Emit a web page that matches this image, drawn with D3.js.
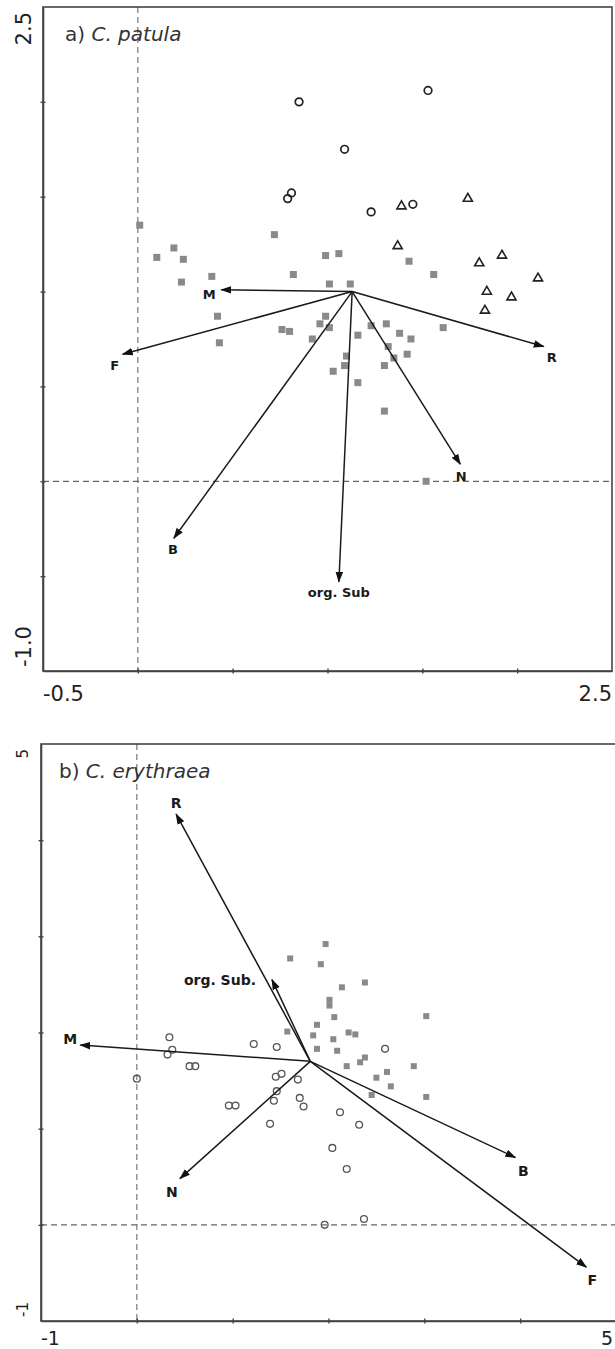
<!DOCTYPE html>
<html>
<head>
<meta charset="utf-8">
<script src="https://cdn.jsdelivr.net/npm/d3@7/dist/d3.min.js"></script>
<style>
  body { margin: 0; background: #fff; }
</style>
</head>
<body>
<script>
/* global d3 */

// ---- panel a) C. patula ----
var squaresA = [[0.01,1.35],[0.10,1.18],[0.19,1.23],[0.24,1.17],[0.23,1.05],[0.39,1.08],[0.42,0.87],[0.43,0.73],
  [0.72,1.30],[0.82,1.09],[0.76,0.80],[0.80,0.79],[0.92,0.75],[0.99,1.19],[1.06,1.20],[1.01,1.04],[1.12,1.04],
  [0.99,0.87],[0.96,0.83],[1.01,0.81],[1.16,0.77],[1.23,0.82],[1.31,0.83],[1.38,0.78],[1.44,0.75],[1.61,0.81],
  [1.43,1.16],[1.56,1.09],[1.10,0.66],[1.09,0.61],[1.03,0.58],[1.32,0.71],[1.35,0.65],[1.42,0.67],[1.30,0.61],
  [1.16,0.52],[1.30,0.37],[1.52,0.00]];
var circlesA = [[0.85,2.00],[1.53,2.06],[1.09,1.75],[0.81,1.52],[0.79,1.49],[1.23,1.42],[1.45,1.46]];
var trianglesA = [[1.39,1.45],[1.74,1.49],[1.37,1.24],[1.92,1.19],[1.80,1.15],[2.11,1.07],[1.84,1.00],[1.97,0.97],[1.83,0.90]];
var varsA = ["M","F","R","N","B","org. Sub"];
var originA = [1.13, 1.00];
var tipsA = [[0.44,1.01],[-0.08,0.67],[2.14,0.71],[1.70,0.09],[0.19,-0.30],[1.06,-0.53]];
var xTicksA = [0, 0.5, 1, 1.5, 2];
var yTicksA = [-0.5, 0, 0.5, 1, 1.5, 2];
var xEndLabelsA = ["-0.5", "2.5"];
var yEndLabelsA = ["-1.0", "2.5"];

// ---- panel b) C. erythraea ----
var squaresB = [[1.97,2.92],[1.60,2.77],[1.92,2.71],[2.14,2.47],[2.38,2.52],[2.01,2.34],[2.01,2.28],[2.06,2.16],
  [3.02,2.17],[1.57,2.01],[1.88,2.08],[1.84,1.97],[2.05,1.93],[2.21,2.00],[2.28,1.98],[1.88,1.83],[2.09,1.81],
  [2.19,1.65],[2.33,1.69],[2.38,1.74],[2.89,1.65],[2.50,1.53],[2.61,1.59],[2.65,1.44],[2.45,1.35],[3.02,1.33]];
var circlesB = [[0.34,1.95],[0.37,1.82],[0.32,1.77],[0.55,1.65],[0.61,1.65],[0.00,1.52],[1.22,1.88],[1.46,1.85],
  [2.59,1.83],[1.45,1.54],[1.51,1.57],[1.68,1.51],[1.46,1.39],[1.43,1.29],[1.70,1.32],[1.74,1.23],[0.96,1.24],
  [1.03,1.24],[1.39,1.05],[2.12,1.17],[2.32,1.04],[2.04,0.80],[2.19,0.58],[1.96,0.00],[2.37,0.06]];
var varsB = ["R","M","N","B","F","org. Sub."];
var originB = [1.81, 1.70];
var tipsB = [[0.41,4.27],[-0.59,1.87],[0.45,0.48],[3.95,0.70],[4.69,-0.44],[1.41,2.55]];
var xTicksB = [0, 1, 2, 3, 4];
var yTicksB = [0, 1, 2, 3, 4];
var xEndLabelsB = ["-1", "5"];
var yEndLabelsB = ["-1", "5"];

// label offsets from arrow tips (pixels)
var labelOffA = [[-12,5],[-8,11],[8,11],[1,12],[-1,11],[0,11]];
var labelOffB = [[0,-11],[-10,-6],[-8,13],[8,13],[6,13],[-52,0]];

var axisColor = "#444",
    font = "'DejaVu Sans', Arial, sans-serif";

var svg = d3.select("body").append("svg")
    .attr("width", 615)
    .attr("height", 1349);

svg.append("defs").append("marker")
    .attr("id", "head")
    .attr("viewBox", "0 -4 11 8")
    .attr("refX", 10).attr("refY", 0)
    .attr("markerUnits", "userSpaceOnUse")
    .attr("markerWidth", 11).attr("markerHeight", 8)
    .attr("orient", "auto")
  .append("path")
    .attr("d", "M0,-3.8L11,0L0,3.8Z")
    .attr("fill", "#111");

function drawPanel(p) {
  var x = d3.scaleLinear().domain(p.xDom).range(p.xRange),
      y = d3.scaleLinear().domain(p.yDom).range(p.yRange);
  var g = svg.append("g");
  var x0 = p.xRange[0], x1 = p.xRange[1], yb = p.yRange[0], yt = p.yRange[1];

  // dashed zero lines
  g.append("line").attr("x1", x(0)).attr("x2", x(0)).attr("y1", yt).attr("y2", yb)
    .attr("stroke", "#777").attr("stroke-width", 1.2).attr("stroke-dasharray", "6,4");
  g.append("line").attr("x1", x0).attr("x2", x1).attr("y1", y(0)).attr("y2", y(0))
    .attr("stroke", "#666").attr("stroke-width", 1.3).attr("stroke-dasharray", "6,4");

  // frame
  g.append("rect").attr("x", x0).attr("y", yt).attr("width", x1 - x0).attr("height", yb - yt)
    .attr("fill", "none").attr("stroke", axisColor).attr("stroke-width", 1.6);

  // axes with crossing ticks
  g.append("g").attr("transform", "translate(0," + yb + ")")
    .call(d3.axisBottom(x).tickValues(p.xTicks).tickSizeOuter(0).tickFormat(""))
    .call(function(a){
      a.select(".domain").attr("stroke", axisColor).attr("stroke-width", 1.6);
      a.selectAll(".tick line").attr("y1", -2.5).attr("y2", 2.5).attr("stroke", axisColor).attr("stroke-width", 1.4);
    });
  g.append("g").attr("transform", "translate(" + x0 + ",0)")
    .call(d3.axisLeft(y).tickValues(p.yTicks).tickSizeOuter(0).tickFormat(""))
    .call(function(a){
      a.select(".domain").attr("stroke", axisColor).attr("stroke-width", 1.6);
      a.selectAll(".tick line").attr("x1", -2.5).attr("x2", 2.5).attr("stroke", axisColor).attr("stroke-width", 1.4);
    });

  // end labels
  g.append("text").attr("x", x0).attr("y", p.xLabY).attr("text-anchor", "start")
    .style("font-family", font).style("font-size", p.xLabSize + "px").attr("fill", "#222").text(p.xLabels[0]);
  g.append("text").attr("x", Math.min(x1, 613)).attr("y", p.xLabY).attr("text-anchor", "end")
    .style("font-family", font).style("font-size", p.xLabSize + "px").attr("fill", "#222").text(p.xLabels[1]);
  g.append("text").attr("transform", "translate(" + p.yLabX + "," + (yb - 4) + ") rotate(-90)")
    .attr("text-anchor", "start")
    .style("font-family", font).style("font-size", p.yLabSize + "px").attr("fill", "#222").text(p.yLabels[0]);
  g.append("text").attr("transform", "translate(" + p.yLabX + "," + (yt + 5) + ") rotate(-90)")
    .attr("text-anchor", "end")
    .style("font-family", font).style("font-size", p.yLabSize + "px").attr("fill", "#222").text(p.yLabels[1]);

  // title
  var t = g.append("text").attr("x", p.titleX).attr("y", p.titleY)
    .style("font-family", font).style("font-size", "20px").attr("fill", "#333");
  t.append("tspan").text(p.title[0]);
  t.append("tspan").style("font-style", "italic").text(p.title[1]);

  // points
  g.selectAll(".sq").data(p.squares).enter().append("rect")
    .attr("x", function(d){ return x(d[0]) - p.sqSize/2; })
    .attr("y", function(d){ return y(d[1]) - p.sqSize/2; })
    .attr("width", p.sqSize).attr("height", p.sqSize)
    .attr("fill", "#8a8a8a");
  g.selectAll(".ci").data(p.circles).enter().append("circle")
    .attr("cx", function(d){ return x(d[0]); })
    .attr("cy", function(d){ return y(d[1]); })
    .attr("r", p.cr)
    .attr("fill", "none").attr("stroke", p.circleColor).attr("stroke-width", p.circleWidth);
  g.selectAll(".tr").data(p.triangles || []).enter().append("path")
    .attr("d", d3.symbol().type(d3.symbolTriangle).size(36))
    .attr("transform", function(d){ return "translate(" + x(d[0]) + "," + y(d[1]) + ")"; })
    .attr("fill", "none").attr("stroke", "#222").attr("stroke-width", 1.6);

  // environmental arrows
  g.selectAll(".arrow").data(p.tips).enter().append("line")
    .attr("x1", x(p.origin[0])).attr("y1", y(p.origin[1]))
    .attr("x2", function(d){ return x(d[0]); })
    .attr("y2", function(d){ return y(d[1]); })
    .attr("stroke", "#1a1a1a").attr("stroke-width", 1.5)
    .attr("marker-end", "url(#head)");
  g.selectAll(".vlab").data(p.tips).enter().append("text")
    .attr("x", function(d, i){ return x(d[0]) + p.labelOff[i][0]; })
    .attr("y", function(d, i){ return y(d[1]) + p.labelOff[i][1]; })
    .attr("text-anchor", "middle")
    .attr("dominant-baseline", "central")
    .style("font-family", font).style("font-weight", "bold")
    .style("font-size", p.varSize + "px").attr("fill", "#1a1a1a")
    .text(function(d, i){ return p.vars[i]; });
}

drawPanel({
  xDom: [-0.5, 2.5], xRange: [43, 612],
  yDom: [-1, 2.5], yRange: [671, 7],
  xTicks: xTicksA, yTicks: yTicksA,
  xLabels: xEndLabelsA, yLabels: yEndLabelsA,
  xLabY: 701, xLabSize: 21, yLabX: 31, yLabSize: 21,
  title: ["a) ", "C. patula"], titleX: 65, titleY: 41,
  squares: squaresA, circles: circlesA, triangles: trianglesA,
  sqSize: 7, cr: 3.8, circleColor: "#222", circleWidth: 1.7,
  origin: originA, tips: tipsA, vars: varsA, labelOff: labelOffA, varSize: 13
});

drawPanel({
  xDom: [-1, 5], xRange: [41, 616],
  yDom: [-1, 5], yRange: [1321, 744],
  xTicks: xTicksB, yTicks: yTicksB,
  xLabels: xEndLabelsB, yLabels: yEndLabelsB,
  xLabY: 1345, xLabSize: 19, yLabX: 28, yLabSize: 15,
  title: ["b) ", "C. erythraea"], titleX: 59, titleY: 778,
  squares: squaresB, circles: circlesB, triangles: [],
  sqSize: 6, cr: 3.4, circleColor: "#555", circleWidth: 1.3,
  origin: originB, tips: tipsB, vars: varsB, labelOff: labelOffB, varSize: 14
});
</script>
</body>
</html>
